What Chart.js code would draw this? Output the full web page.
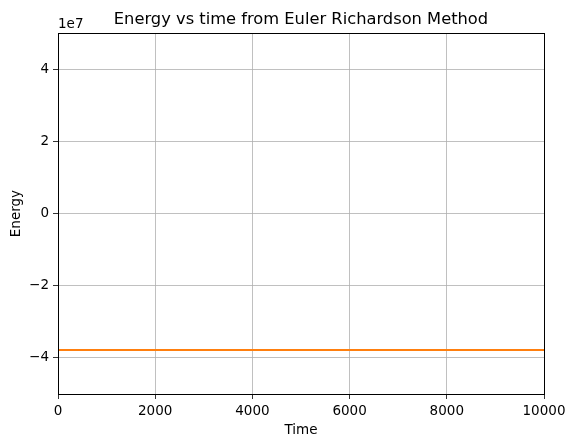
<!DOCTYPE html>
<html>
<head>
<meta charset="utf-8">
<script src="https://cdn.jsdelivr.net/npm/chart.js@4/dist/chart.umd.min.js"></script>
<style>
  html, body { margin: 0; padding: 0; background: #fff; }
  #wrap { width: 566px; height: 437px; }
</style>
</head>
<body>
<div id="wrap"><canvas id="grafico" width="566" height="437"></canvas></div>
<script>
// dados
var tempos = [0, 2500, 5000, 7500, 10000];
var energia = [-3.78e7, -3.78e7, -3.78e7, -3.78e7, -3.78e7];
var ticksX = [0, 2000, 4000, 6000, 8000, 10000];
var ticksY = [-4e7, -2e7, 0, 2e7, 4e7];

var fonte = 'DejaVu Sans';
var tamanho = 13.5;

// moldura completa e o "1e7" do eixo y
var moldura = {
    id: 'moldura',
    afterDraw: function (chart) {
        var c = chart.ctx, a = chart.chartArea;
        c.save();
        c.strokeStyle = '#000';
        c.lineWidth = 1;
        c.strokeRect(Math.round(a.left) + 0.5, Math.round(a.top) + 0.5,
            Math.round(a.right - a.left), Math.round(a.bottom - a.top));
        c.fillStyle = '#000';
        c.font = tamanho + 'px ' + fonte;
        c.textAlign = 'left';
        c.textBaseline = 'alphabetic';
        c.fillText('1e7', a.left, a.top - 5);
        c.restore();
    }
};

var ctx = document.getElementById('grafico').getContext('2d');
var grafico = new Chart(ctx, {
    type: 'line',
    data: {
        labels: tempos,
        datasets: [{
            label: 'Energy',
            data: tempos.map(function (t, i) { return { x: t, y: energia[i] }; }),
            borderColor: '#ff7f0e',
            borderWidth: 2,
            pointRadius: 0,
            fill: false
        }]
    },
    options: {
        responsive: false,
        animation: false,
        layout: { padding: { left: 0, right: 22, top: 0, bottom: 0 } },
        plugins: {
            legend: { display: false },
            tooltip: { enabled: false },
            title: {
                display: true,
                fullSize: false,
                text: 'Energy vs time from Euler Richardson Method',
                color: '#000',
                font: { family: fonte, size: 16.3, weight: 'normal' },
                padding: { top: 9.5, bottom: 4 }
            }
        },
        scales: {
            x: {
                type: 'linear',
                min: 0,
                max: 10000,
                afterBuildTicks: function (axis) {
                    axis.ticks = ticksX.map(function (v) { return { value: v }; });
                },
                afterFit: function (axis) {
                    axis.height = 43;
                    axis.paddingLeft = 0;
                    axis.paddingRight = 0;
                },
                ticks: {
                    color: '#000',
                    font: { family: fonte, size: tamanho },
                    padding: 4,
                    maxRotation: 0,
                    callback: function (v) { return String(v); }
                },
                grid: { color: '#b0b0b0', lineWidth: 0.8, tickColor: '#000', tickLength: 5 },
                border: { display: false },
                title: {
                    display: true,
                    text: 'Time',
                    color: '#000',
                    font: { family: fonte, size: tamanho },
                    padding: { top: 0, bottom: -2 }
                }
            },
            y: {
                type: 'linear',
                min: -5e7,
                max: 5e7,
                afterBuildTicks: function (axis) {
                    axis.ticks = ticksY.map(function (v) { return { value: v }; });
                },
                afterFit: function (axis) { axis.width = 58; },
                ticks: {
                    color: '#000',
                    font: { family: fonte, size: tamanho },
                    padding: 4,
                    callback: function (v) {
                        var n = Math.round(v / 1e7);
                        return n < 0 ? '\u2212' + Math.abs(n) : String(n);
                    }
                },
                grid: { color: '#b0b0b0', lineWidth: 0.8, tickColor: '#000', tickLength: 5 },
                border: { display: false },
                title: {
                    display: true,
                    text: 'Energy',
                    color: '#000',
                    font: { family: fonte, size: tamanho },
                    padding: { top: 8, bottom: 0 }
                }
            }
        }
    },
    plugins: [moldura]
});
</script>
</body>
</html>
